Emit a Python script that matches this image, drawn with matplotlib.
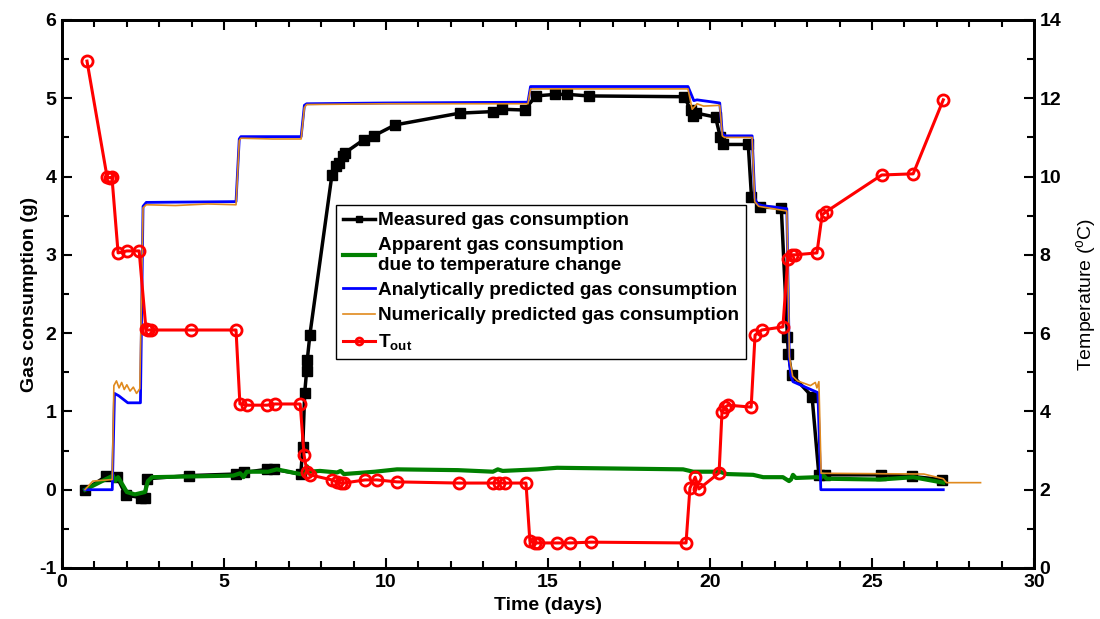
import matplotlib
matplotlib.use('Agg')
import matplotlib.pyplot as plt
from matplotlib.ticker import MultipleLocator

plt.rcParams['font.family'] = 'Liberation Sans'
plt.rcParams['axes.unicode_minus'] = False
plt.rcParams['mathtext.fontset'] = 'custom'
plt.rcParams['mathtext.rm'] = 'Liberation Sans'
plt.rcParams['mathtext.it'] = 'Liberation Sans:bold'
plt.rcParams['mathtext.bf'] = 'Liberation Sans:bold'

# Measured gas consumption (g)
meas_t = [0.71, 1.36, 1.70, 1.97, 2.43, 2.56, 2.62, 3.92, 5.37, 5.61, 6.32, 6.54, 7.37,
          7.43, 7.49, 7.55, 7.57, 7.65, 8.33, 8.45, 8.54, 8.66, 8.72, 9.31, 9.62, 10.28,
          12.27, 13.29, 13.57, 14.28, 14.62, 15.23, 15.6, 16.25, 19.21, 19.4, 19.49, 19.58,
          20.17, 20.32, 20.41, 21.18, 21.28, 21.55, 22.2, 22.39, 22.42, 22.52, 23.15, 23.36,
          23.56, 25.28, 26.22, 27.17]
meas_g = [0.0, 0.17, 0.16, -0.07, -0.10, -0.10, 0.14, 0.18, 0.20, 0.22, 0.26, 0.26, 0.20,
          0.55, 1.24, 1.52, 1.66, 1.98, 4.02, 4.13, 4.17, 4.26, 4.30, 4.47, 4.52, 4.66,
          4.81, 4.83, 4.86, 4.85, 5.03, 5.05, 5.05, 5.03, 5.02, 4.85, 4.77, 4.81,
          4.76, 4.50, 4.41, 4.41, 3.74, 3.61, 3.60, 1.95, 1.73, 1.47, 1.19, 0.19,
          0.19, 0.19, 0.17, 0.13]

# Apparent gas consumption due to temperature change (g)
green_t = [0.71, 1.57, 1.64, 1.73, 2.0, 2.25, 2.56, 2.65, 2.78, 5.28, 5.5, 5.6, 5.7, 6.36,
           6.63, 7.35, 7.5, 7.56, 7.62, 7.96, 8.49, 8.6, 8.7, 9.66, 10.34, 12.22, 13.3,
           13.45, 13.6, 14.66, 15.28, 19.17, 19.48, 20.3, 20.52, 21.33, 21.64, 22.25, 22.44,
           22.5, 22.56, 22.65, 23.3, 23.42, 23.46, 23.6, 25.25, 26.27, 27.2]
green_g = [0.0, 0.18, 0.11, 0.16, -0.03, -0.06, -0.03, 0.11, 0.16, 0.18, 0.21, 0.16, 0.23,
           0.23, 0.26, 0.20, 0.20, 0.30, 0.23, 0.24, 0.22, 0.24, 0.20, 0.23, 0.26, 0.25, 0.23,
           0.26, 0.24, 0.26, 0.28, 0.26, 0.23, 0.23, 0.20, 0.19, 0.16, 0.16, 0.11,
           0.13, 0.19, 0.15, 0.16, 0.15, 0.20, 0.14, 0.13, 0.16, 0.09]

# Analytically predicted gas consumption (g)
blue_t = [0.71, 1.55, 1.62, 1.75, 2.03, 2.42, 2.5, 2.6, 5.37, 5.47, 5.52, 7.38, 7.48, 7.55,
          10.0, 14.38, 14.46, 19.32, 19.5, 19.6, 20.3, 20.38, 20.45, 21.3, 21.38, 21.45,
          21.6, 22.37, 22.45, 22.5, 22.56, 23.33, 23.42, 27.2]
blue_g = [0.0, 0.0, 1.23, 1.20, 1.11, 1.11, 3.62, 3.67, 3.68, 4.48, 4.51, 4.51, 4.91, 4.93,
          4.94, 4.95, 5.15, 5.15, 4.97, 4.98, 4.94, 4.55, 4.52, 4.52, 3.73, 3.65,
          3.63, 3.59, 1.62, 1.45, 1.38, 1.24, 0.0, 0.0]

# Numerically predicted gas consumption (g)
orange_t = [0.71, 0.95, 1.55, 1.6, 1.68, 1.76, 1.84, 1.92, 2.0, 2.1, 2.2, 2.3, 2.4, 2.5,
            2.6, 3.5, 4.5, 5.37, 5.47, 5.52, 6.5, 7.38, 7.48, 7.55, 10.0, 14.38, 14.46,
            19.32, 19.45, 19.6, 19.8, 20.3, 20.38, 20.45, 21.3, 21.38, 21.5, 22.37, 22.45,
            22.55, 22.7, 22.9, 23.1, 23.25, 23.3, 23.36, 23.43, 26.6, 27.2, 27.3, 28.35]
orange_g = [0.0, 0.11, 0.13, 1.33, 1.39, 1.30, 1.37, 1.28, 1.34, 1.26, 1.31, 1.23, 1.29,
            3.60, 3.64, 3.63, 3.65, 3.64, 4.46, 4.49, 4.48, 4.48, 4.88, 4.92,
            4.93, 4.93, 5.12, 5.12, 4.86, 4.93, 4.90, 4.91, 4.52, 4.50, 4.50, 3.68, 3.62,
            3.56, 1.70, 1.45, 1.39, 1.36, 1.33, 1.37, 1.30, 1.38, 0.21, 0.20, 0.14, 0.09, 0.09]

# Outside temperature (degC)
temp_t = [0.77, 1.39, 1.47, 1.54, 1.73, 2.0, 2.38, 2.59, 2.65, 2.75, 3.98, 5.37, 5.49, 5.71,
          6.33, 6.57, 7.35, 7.47, 7.56, 7.65, 8.33, 8.49, 8.6, 8.7, 9.35, 9.72, 10.34,
          12.25, 13.3, 13.5, 13.67, 14.32, 14.44, 14.6, 14.7, 15.28, 15.68, 16.32, 19.26,
          19.38, 19.54, 19.66, 20.28, 20.37, 20.46, 20.56, 21.27, 21.39, 21.6, 22.25, 22.4,
          22.53, 22.62, 23.3, 23.46, 23.58, 25.3, 26.27, 27.2]
temp_c = [12.95, 9.99, 9.97, 9.99, 8.05, 8.1, 8.1, 6.1, 6.08, 6.08, 6.08, 6.08, 4.19, 4.16,
          4.16, 4.19, 4.19, 2.89, 2.45, 2.38, 2.25, 2.2, 2.17, 2.17, 2.25, 2.25, 2.2,
          2.17, 2.17, 2.17, 2.17, 2.17, 0.69, 0.64, 0.64, 0.64, 0.64, 0.66, 0.64,
          2.04, 2.32, 2.02, 2.43, 3.99, 4.11, 4.16, 4.11, 5.95, 6.08, 6.16, 7.89,
          8.0, 8.0, 8.05, 9.02, 9.1, 10.04, 10.07, 11.96]

fig = plt.figure(figsize=(11, 6.19), dpi=100)
ax = fig.add_axes([0.0564, 0.0824, 0.8836, 0.8853])

l1, = ax.plot(meas_t, meas_g, '-s', color='black', lw=2.5, ms=7,
              label='Measured gas consumption', zorder=2)
l2, = ax.plot(green_t, green_g, '-', color='#008000', lw=3,
              label='Apparent gas consumption\ndue to temperature change', zorder=3)
l3, = ax.plot(blue_t, blue_g, '-', color='blue', lw=2,
              label='Analytically predicted gas consumption', zorder=4)
l4, = ax.plot(orange_t, orange_g, '-', color='#e08a1e', lw=1.2,
              label='Numerically predicted gas consumption', zorder=5)

ax.set_xlim(0, 30)
ax.set_ylim(-1, 6)
ax.xaxis.set_major_locator(MultipleLocator(5))
ax.xaxis.set_minor_locator(MultipleLocator(1))
ax.yaxis.set_major_locator(MultipleLocator(1))
ax.yaxis.set_minor_locator(MultipleLocator(0.5))
ax.tick_params(which='both', direction='in', top=True, width=1.5, labelsize=14, pad=4)
ax.tick_params(which='major', length=7)
ax.tick_params(which='minor', length=5)
for lab in ax.get_xticklabels() + ax.get_yticklabels():
    lab.set_fontweight('bold')
for s in ax.spines.values():
    s.set_linewidth(2)
ax.set_xlabel('Time (days)', fontsize=14, fontweight='bold', labelpad=5)
ax.set_ylabel('Gas consumption (g)', fontsize=14, fontweight='bold', labelpad=1)

ax2 = ax.twinx()
l5, = ax2.plot(temp_t, temp_c, '-o', color='red', lw=2.2, ms=8, mfc='none', mew=2,
               label='T$_{out}$')
ax2.set_ylim(0, 14)
ax2.yaxis.set_major_locator(MultipleLocator(2))
ax2.yaxis.set_minor_locator(MultipleLocator(1))
ax2.tick_params(which='both', direction='in', width=1.5, labelsize=14, pad=4)
ax2.tick_params(which='major', length=7)
ax2.tick_params(which='minor', length=5)
for lab in ax2.get_yticklabels():
    lab.set_fontweight('bold')
for s in ax2.spines.values():
    s.set_linewidth(2)
ax2.set_ylabel('Temperature ($^{\\rm o}$C)', fontsize=14, labelpad=9)

leg = ax2.legend(handles=[l1, l2, l3, l4, l5], loc='upper left',
                 bbox_to_anchor=(0.282, 0.662), fancybox=False, framealpha=1,
                 edgecolor='black', handlelength=1.7, handletextpad=0.15,
                 labelspacing=0.42, borderpad=0.35, borderaxespad=0,
                 prop={'size': 13.7, 'weight': 'bold'})
leg.get_frame().set_linewidth(1)
for h in leg.legend_handles:
    h.set_markersize(5)

fig.savefig('out.png', dpi=100)
